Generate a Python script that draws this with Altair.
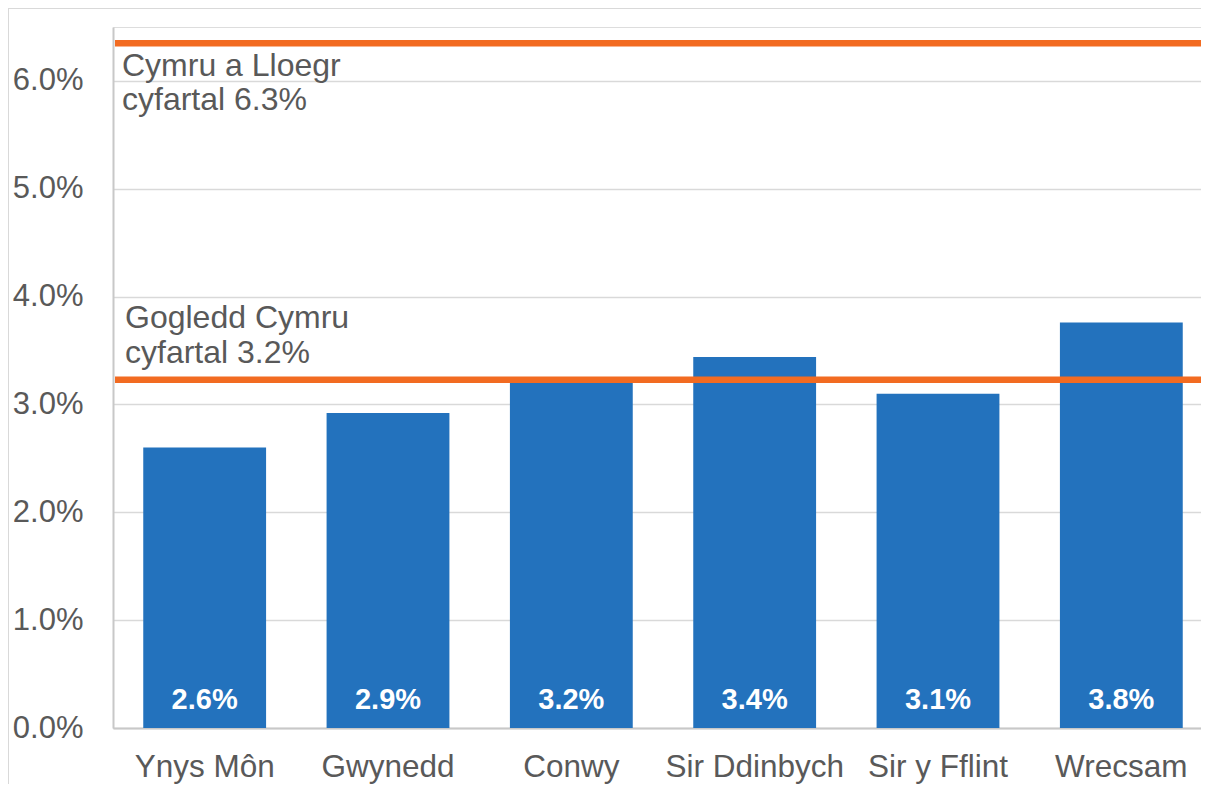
import altair as alt
import pandas as pd

categories = ["Ynys Môn", "Gwynedd", "Conwy", "Sir Ddinbych", "Sir y Fflint", "Wrecsam"]
values = [0.0260, 0.0292, 0.0322, 0.0344, 0.0310, 0.0376]

ref_values = [0.0635, 0.0323]
ref_line1 = ["Cymru a Lloegr", "Gogledd Cymru"]
ref_line2 = ["cyfartal 6.3%", "cyfartal 3.2%"]

W, H = 1088, 701
FONT = "Liberation Sans"
GREY = "#595959"
BLUE = "#2372BD"
ORANGE = "#F26B21"

bars_df = pd.DataFrame({"cat": categories, "val": values})
ref_df = pd.DataFrame({
    "val": ref_values,
    "label": [a + "\n" + b for a, b in zip(ref_line1, ref_line2)],
})

x_enc = alt.X("cat:N", sort=categories, title=None,
              scale=alt.Scale(paddingInner=0.33, paddingOuter=0.165, range=[0, 1100]),
              axis=alt.Axis(labelAngle=0, labelFont=FONT, labelFontSize=31.5,
                            labelColor=GREY, labelPadding=23, ticks=False,
                            domainColor="#c8c8c8", domainWidth=2, grid=False))
y_scale = alt.Scale(domain=[0, 0.065], nice=False)

bars = alt.Chart(bars_df).mark_bar(color=BLUE).encode(
    x=x_enc,
    y=alt.Y("val:Q", scale=y_scale, title=None,
            axis=alt.Axis(format=".1%", values=[0, 0.01, 0.02, 0.03, 0.04, 0.05, 0.06],
                          labelFont=FONT, labelFontSize=31, labelColor=GREY,
                          labelPadding=30, ticks=False, domainColor="#c8c8c8",
                          domainWidth=2, gridColor="#d9d9d9", gridWidth=1.5)),
)

bar_labels = alt.Chart(bars_df).transform_calculate(zero="0").mark_text(
    color="white", font=FONT, fontSize=29, fontWeight="bold",
    baseline="alphabetic", dy=-19,
).encode(
    x=alt.X("cat:N", sort=categories),
    y=alt.Y("zero:Q", scale=y_scale),
    text=alt.Text("val:Q", format=".1%"),
)

rules = alt.Chart(ref_df).mark_rule(color=ORANGE, strokeWidth=6.5).encode(
    y=alt.Y("val:Q", scale=y_scale),
    x=alt.value(2), x2=alt.value(W + 10),
)

ref_text1 = alt.Chart(ref_df.iloc[[0]]).mark_text(
    align="left", baseline="alphabetic", font=FONT, fontSize=32, color=GREY,
    lineBreak="\n", lineHeight=34, dy=33,
).encode(y=alt.Y("val:Q", scale=y_scale), x=alt.value(9), text="label:N")

ref_text2 = alt.Chart(ref_df.iloc[[1]]).mark_text(
    align="left", baseline="alphabetic", font=FONT, fontSize=32, color=GREY,
    lineBreak="\n", lineHeight=35, dy=-52,
).encode(y=alt.Y("val:Q", scale=y_scale), x=alt.value(12), text="label:N")

frame_top = alt.Chart(bars_df.iloc[[0]]).mark_rule(color="#d9d9d9", strokeWidth=2).encode(
    x=alt.value(-105), x2=alt.value(W + 10), y=alt.value(-19))
frame_left = alt.Chart(bars_df.iloc[[0]]).mark_rule(color="#d9d9d9", strokeWidth=2).encode(
    x=alt.value(-105), y=alt.value(-19), y2=alt.value(H + 60))

chart = alt.layer(bars, rules, bar_labels, ref_text1, ref_text2, frame_top, frame_left).properties(
    width=W, height=H,
    autosize=alt.AutoSizeParams(type="none"),
    padding={"left": 105, "top": 19, "right": 0, "bottom": 56},
).configure_view(stroke=None).configure(background="white")

chart.save("out.html", embed_options={"renderer": "svg", "actions": False})
